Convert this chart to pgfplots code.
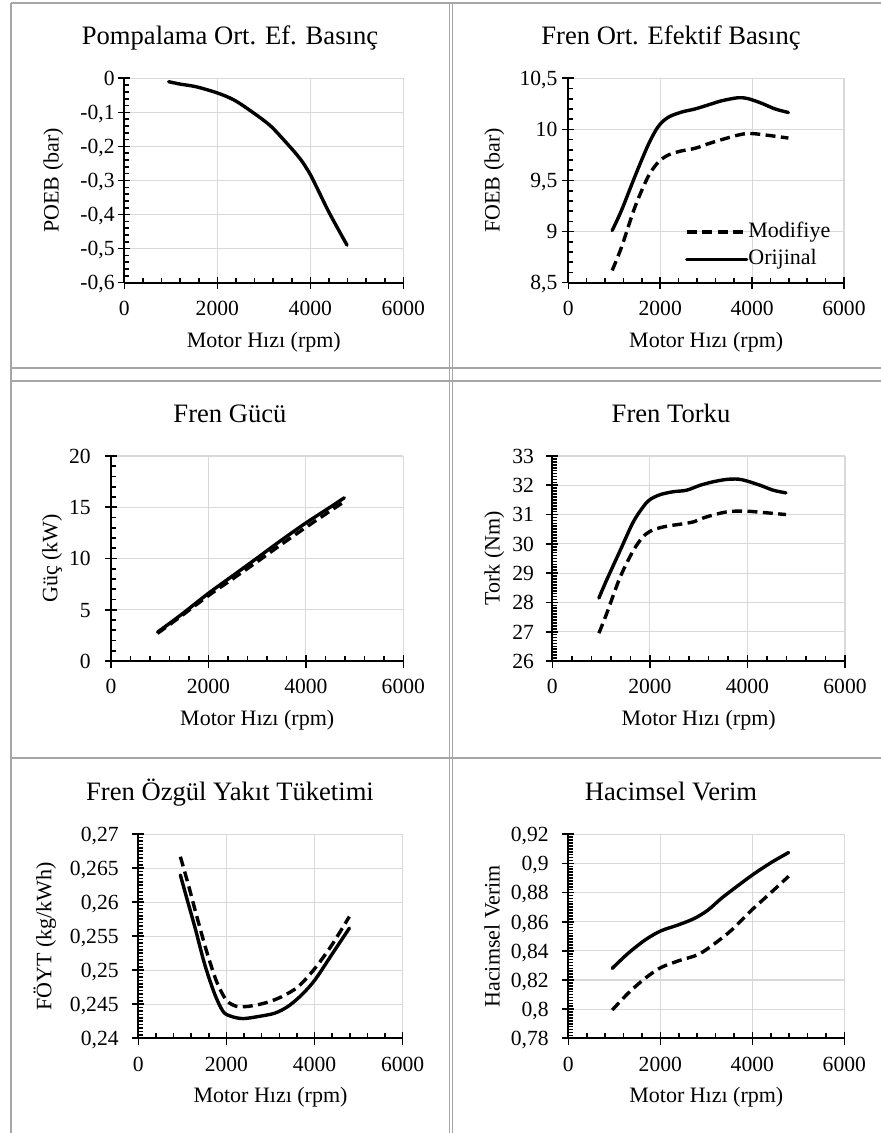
\documentclass[border=0pt]{standalone}
\usepackage{fontspec}
\setmainfont{Liberation Serif}
\usepackage{pgfplots}
\pgfplotsset{compat=1.18}

\definecolor{gridgray}{HTML}{D9D9D9}
\definecolor{framegray}{HTML}{A6A6A6}

\newcommand{\lblfont}{\fontsize{11pt}{13pt}\selectfont}
\newcommand{\tickfont}{\fontsize{10.8pt}{13pt}\selectfont}
\newcommand{\ttlfont}{\fontsize{13.3pt}{16pt}\selectfont}

\pgfplotsset{
  panel/.style={
    scale only axis,
    anchor=south west,
    axis x line*=bottom, axis y line*=left,
    axis line style={black, line width=1pt},
    xmin=0, xmax=6000,
    xtick={0,2000,4000,6000},
    xticklabels={0,2000,4000,6000},
    minor x tick num=4,
    grid=major,
    major grid style={gridgray, line width=0.6pt},
    tick align=inside,
    major tick length=3pt,
    minor tick length=2.5pt,
    tick style={black, line width=0.8pt},
    extra x ticks={0,2000,4000,6000},
    extra x tick labels={},
    extra x tick style={tick align=outside, grid=none, major tick length=3.3pt},
    ticklabel style={font=\tickfont},
    xticklabel style={anchor=base, inner sep=0pt, yshift=-16.5pt},
    yticklabel style={anchor=base east, inner sep=0pt, yshift=-3.65pt},
    every axis plot/.append style={smooth, tension=0.5, line width=1.7pt, black},
  },
  ycross/.style={
    extra y ticks={#1},
    extra y tick labels={},
    extra y tick style={tick align=outside, grid=none, major tick length=3pt},
  },
  orig/.style={solid, line cap=round, line join=round},
  modi/.style={dash pattern=on 5pt off 2.7pt, line cap=butt, line join=round},
}

\begin{document}
\begin{tikzpicture}
\path[use as bounding box] (0,0) rectangle (440.5pt,566.5pt);

% ---------- Pompalama ortalama efektif basinc ----------
\begin{axis}[panel, at={(62.15pt,425.15pt)}, width=139.5pt, height=102.2pt,
  ymin=-0.6, ymax=0,
  ytick={-0.6,-0.5,-0.4,-0.3,-0.2,-0.1,0},
  yticklabels={{-0,6},{-0,5},{-0,4},{-0,3},{-0,2},{-0,1},{0\hspace{5.35pt}}},
  minor y tick num=4,
  ycross={-0.6,-0.5,-0.4,-0.3,-0.2,-0.1,0},
  yticklabel style={xshift=-4.65pt}]
\addplot[orig] table[row sep=\\] {
x y \\
955 -0.010 \\ 1200 -0.017 \\ 1550 -0.025 \\ 2000 -0.043 \\ 2350 -0.063 \\
2700 -0.094 \\ 3130 -0.138 \\ 3490 -0.190 \\ 3780 -0.236 \\ 3990 -0.280 \\
4170 -0.329 \\ 4420 -0.398 \\ 4790 -0.490 \\
};
\end{axis}

% ---------- Fren ortalama efektif basinc ----------
\begin{axis}[panel, at={(284.15pt,425.15pt)}, width=137.85pt, height=102.2pt,
  ymin=8.5, ymax=10.5,
  ytick={8.5,9,9.5,10,10.5},
  yticklabels={{8,5},9,{9,5},10,{10,5}},
  minor y tick num=4,
  ycross={8.5,9,9.5,10,10.5},
  yticklabel style={xshift=-5.3pt},
  legend style={at={(axis cs:2540,8.862)}, anchor=west, draw=none, fill=none,
    inner sep=0pt, outer sep=0pt, font=\lblfont, row sep=3.85pt,
    nodes={inner sep=0pt, text height=7.4pt, text depth=2.4pt},
    /tikz/every even column/.append style={column sep=1pt}},
  legend cell align=left,
  legend image code/.code={\draw[#1] (0pt,0pt) -- (30pt,0pt);}]
\addplot[modi] table[row sep=\\] {
x y \\
955 8.62 \\ 1160 8.85 \\ 1450 9.24 \\ 1740 9.54 \\ 1960 9.68 \\ 2180 9.75 \\
2470 9.79 \\ 2760 9.815 \\ 3050 9.86 \\ 3340 9.90 \\ 3700 9.945 \\ 3920 9.96 \\
4210 9.95 \\ 4790 9.915 \\
};
\addlegendentry{Modifiye}
\addplot[orig] table[row sep=\\] {
x y \\
955 9.01 \\ 1160 9.21 \\ 1450 9.54 \\ 1740 9.85 \\ 1960 10.03 \\ 2180 10.12 \\
2470 10.17 \\ 2760 10.20 \\ 3050 10.24 \\ 3340 10.28 \\ 3700 10.31 \\ 3920 10.30 \\
4210 10.255 \\ 4500 10.20 \\ 4790 10.165 \\
};
\addlegendentry{Orijinal}
\end{axis}

% ---------- Fren gucu ----------
\begin{axis}[panel, at={(55.5pt,236pt)}, width=146.15pt, height=102.5pt,
  ymin=0, ymax=20,
  ytick={0,5,10,15,20},
  yticklabels={0,5,10,15,20},
  minor y tick num=4,
  ycross={0,5,10,15,20},
  yticklabel style={xshift=-10pt}]
\addplot[modi] table[row sep=\\] {
x y \\
955 2.695 \\ 1400 4.237 \\ 2000 6.377 \\ 2500 8.022 \\ 3000 9.682 \\
3500 11.384 \\ 4000 13.036 \\ 4500 14.637 \\ 4790 15.550 \\
};
\addplot[orig] table[row sep=\\] {
x y \\
955 2.815 \\ 1400 4.369 \\ 2000 6.600 \\ 2500 8.320 \\ 3000 10.047 \\
3500 11.795 \\ 4000 13.463 \\ 4500 15.009 \\ 4790 15.921 \\
};
\end{axis}

% ---------- Fren torku ----------
\begin{axis}[panel, at={(276.15pt,236pt)}, width=146.35pt, height=102.5pt,
  ymin=26, ymax=33,
  ytick={26,27,28,29,30,31,32,33},
  yticklabels={26,27,28,29,30,31,32,33},
  minor y tick num=9,
  ycross={26,27,28,29,30,31,32,33},
  yticklabel style={xshift=-9pt}]
\addplot[modi] table[row sep=\\] {
x y \\
955 26.95 \\ 1110 27.60 \\ 1390 28.86 \\ 1660 29.77 \\ 1870 30.26 \\ 2070 30.48 \\
2340 30.60 \\ 2620 30.67 \\ 2890 30.75 \\ 3160 30.92 \\ 3570 31.09 \\ 3920 31.12 \\
4260 31.08 \\ 4790 31.00 \\
};
\addplot[orig] table[row sep=\\] {
x y \\
955 28.15 \\ 1110 28.75 \\ 1390 29.77 \\ 1660 30.75 \\ 1870 31.28 \\ 2000 31.51 \\
2210 31.68 \\ 2480 31.78 \\ 2750 31.83 \\ 3030 32.00 \\ 3300 32.12 \\ 3570 32.20 \\
3810 32.21 \\ 3980 32.15 \\ 4260 32.00 \\ 4530 31.83 \\ 4790 31.74 \\
};
\end{axis}

% ---------- Fren ozgul yakit tuketimi ----------
\begin{axis}[panel, at={(69.15pt,47.35pt)}, width=132.2pt, height=102pt,
  ymin=0.24, ymax=0.27,
  ytick={0.24,0.245,0.25,0.255,0.26,0.265,0.27},
  yticklabels={{0,24},{0,245},{0,25},{0,255},{0,26},{0,265},{0,27}},
  minor y tick num=9,
  ycross={0.24,0.245,0.25,0.255,0.26,0.265,0.27},
  yticklabel style={xshift=-9.65pt}]
\addplot[modi] table[row sep=\\] {
x y \\
955 0.2667 \\ 1135 0.2626 \\ 1320 0.2581 \\ 1550 0.2528 \\ 1780 0.2483 \\
2000 0.2456 \\ 2230 0.2447 \\ 2500 0.2447 \\ 2880 0.2452 \\ 3250 0.2461 \\
3630 0.2476 \\ 4010 0.2503 \\ 4390 0.2537 \\ 4790 0.2579 \\
};
\addplot[orig] table[row sep=\\] {
x y \\
955 0.2640 \\ 1100 0.2606 \\ 1290 0.2562 \\ 1510 0.2508 \\ 1740 0.2464 \\
1930 0.2439 \\ 2120 0.2432 \\ 2380 0.2429 \\ 2720 0.2432 \\ 3100 0.2437 \\
3400 0.2447 \\ 3710 0.2464 \\ 4010 0.2486 \\ 4390 0.2523 \\ 4790 0.2562 \\
};
\end{axis}

% ---------- Hacimsel verim ----------
\begin{axis}[panel, at={(284.15pt,47.35pt)}, width=138pt, height=102pt,
  ymin=0.78, ymax=0.92,
  ytick={0.78,0.8,0.82,0.84,0.86,0.88,0.9,0.92},
  yticklabels={{0,78},{0,8},{0,82},{0,84},{0,86},{0,88},{0,9},{0,92}},
  minor y tick num=9,
  ycross={0.78,0.8,0.82,0.84,0.86,0.88,0.9,0.92},
  yticklabel style={xshift=-9.65pt}]
\addplot[modi] table[row sep=\\] {
x y \\
955 0.7994 \\ 1300 0.8109 \\ 1670 0.8212 \\ 2010 0.8285 \\ 2390 0.8331 \\
2830 0.8376 \\ 3190 0.8452 \\ 3550 0.8543 \\ 3990 0.8681 \\ 4350 0.8784 \\
4790 0.8912 \\
};
\addplot[orig] table[row sep=\\] {
x y \\
955 0.8280 \\ 1300 0.8383 \\ 1670 0.8475 \\ 2010 0.8537 \\ 2390 0.8578 \\
2750 0.8624 \\ 3040 0.8681 \\ 3330 0.8761 \\ 3660 0.8841 \\ 4020 0.8925 \\
4420 0.9008 \\ 4790 0.9075 \\
};
\end{axis}

% ---------- frames, titles and axis labels ----------
\begin{scope}[shift={(0pt,566.5pt)}, x=0.5pt, y=-0.5pt]
  \begin{scope}[framegray, line width=0.6pt]
    \draw (11,3) -- (881,3);
    \draw (11,3) -- (11,1133);
    \draw (449.3,3) -- (449.3,1133);
    \draw (452.7,3) -- (452.7,1133);
    \draw (11,368) -- (881,368);
    \draw (11,381) -- (881,381);
    \draw (11,758) -- (881,758);
  \end{scope}

  \node[font=\ttlfont, anchor=base] at (230,45) {Pompalama Ort. Ef. Basınç};
  \node[font=\ttlfont, anchor=base] at (671,45) {Fren Ort. Efektif Basınç};
  \node[font=\ttlfont, anchor=base] at (230,422.7) {Fren Gücü};
  \node[font=\ttlfont, anchor=base] at (671,422.7) {Fren Torku};
  \node[font=\ttlfont, anchor=base] at (230,801) {Fren Özgül Yakıt Tüketimi};
  \node[font=\ttlfont, anchor=base] at (671,801) {Hacimsel Verim};

  \node[font=\lblfont, anchor=base] at (263.8,347.2) {Motor Hızı (rpm)};
  \node[font=\lblfont, anchor=base] at (706.2,347.2) {Motor Hızı (rpm)};
  \node[font=\lblfont, anchor=base] at (257.2,725.5) {Motor Hızı (rpm)};
  \node[font=\lblfont, anchor=base] at (698.7,725.5) {Motor Hızı (rpm)};
  \node[font=\lblfont, anchor=base] at (270.5,1102.8) {Motor Hızı (rpm)};
  \node[font=\lblfont, anchor=base] at (706.3,1102.8) {Motor Hızı (rpm)};

  \node[font=\lblfont, anchor=base, rotate=90] at (58.6,180.5) {POEB (bar)};
  \node[font=\lblfont, anchor=base, rotate=90] at (499.6,180.5) {FOEB (bar)};
  \node[font=\lblfont, anchor=base, rotate=90] at (57.3,558.5) {Güç (kW)};
  \node[font=\lblfont, anchor=base, rotate=90] at (499.6,558.5) {Tork (Nm)};
  \node[font=\lblfont, anchor=base, rotate=90] at (51.3,936.3) {FÖYT (kg/kWh)};
  \node[font=\lblfont, anchor=base, rotate=90] at (499.6,936.3) {Hacimsel Verim};
\end{scope}
\end{tikzpicture}
\end{document}
